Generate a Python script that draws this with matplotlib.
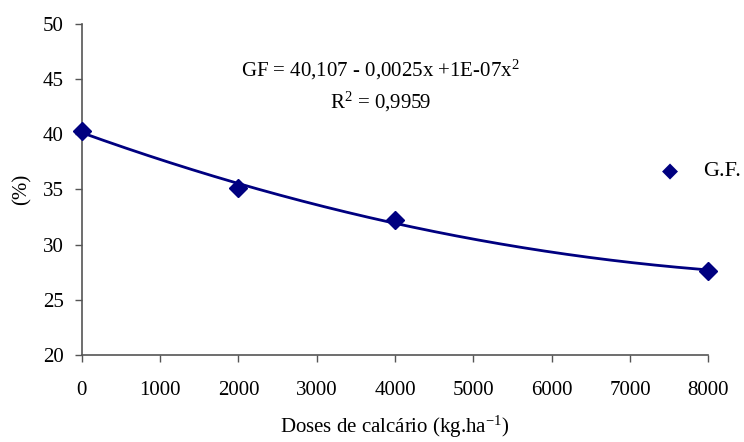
import numpy as np
import matplotlib.pyplot as plt

plt.rcParams['font.family'] = ['Liberation Serif', 'DejaVu Serif']
plt.rcParams['mathtext.fontset'] = 'custom'
plt.rcParams['mathtext.rm'] = 'Liberation Serif'
plt.rcParams['mathtext.it'] = 'Liberation Serif:italic'

doses = [0, 2000, 4000, 8000]
gf = [40.3, 35.1, 32.25, 27.65]
x_ticks = [0, 1000, 2000, 3000, 4000, 5000, 6000, 7000, 8000]
y_ticks = [20, 25, 30, 35, 40, 45, 50]

navy = '#000080'

fig = plt.figure(figsize=(7.44, 4.42), dpi=100)
ax = fig.add_axes([0.110, 0.197, 0.842, 0.749])

# second-order trend line through the points
coef = np.polyfit(doses, gf, 2)
xs = np.linspace(0, 8000, 200)
ax.plot(xs, np.polyval(coef, xs), color=navy, lw=2)
ax.plot(doses, gf, linestyle='none', marker='D', markersize=9,
        color=navy, clip_on=False, zorder=3)

ax.set_xlim(0, 8000)
ax.set_ylim(20, 50)
ax.set_xticks(x_ticks)
ax.set_yticks(y_ticks)
ax.tick_params(direction='out', length=5, width=1, colors='#555555',
               labelcolor='black', labelsize=15)
ax.tick_params(axis='x', pad=14)
ax.tick_params(axis='y', pad=8)
for side in ['top', 'right']:
    ax.spines[side].set_visible(False)
for side in ['left', 'bottom']:
    ax.spines[side].set_color('#555555')
    ax.spines[side].set_linewidth(1.2)

ax.set_xlabel('Doses de calcário (kg.ha$\\mathregular{^{-1}}$)', fontsize=15, labelpad=10)
ax.set_ylabel('(%)', fontsize=15, labelpad=8)

ax.text(0.477, 0.862, 'GF = 40,107 - 0,0025x +1E-07x$\\mathregular{^{2}}$',
        transform=ax.transAxes, ha='center', va='center', fontsize=15)
ax.text(0.477, 0.764, 'R$\\mathregular{^{2}}$ = 0,9959', transform=ax.transAxes,
        ha='center', va='center', fontsize=15)

# legend entry
fig.text(0.901, 0.613, '\u25C6', color=navy, fontsize=15, ha='center', va='center',
         family='DejaVu Sans')
fig.text(0.970, 0.613, 'G.F.', fontsize=16, ha='center', va='center')

fig.savefig('out.png', dpi=100)
